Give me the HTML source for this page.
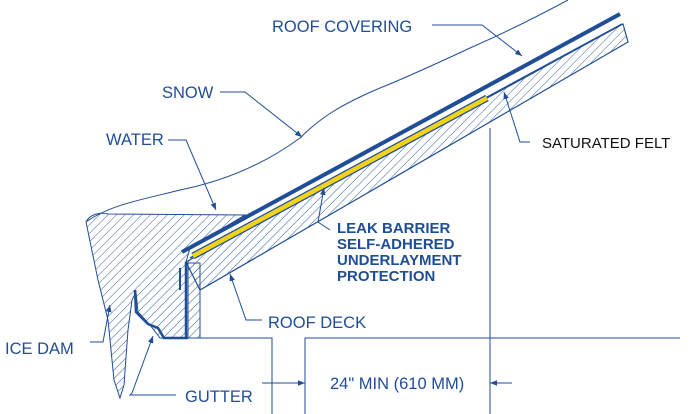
<!DOCTYPE html>
<html><head><meta charset="utf-8"><style>
html,body{margin:0;padding:0;background:#fff}
svg{display:block}
text{font-family:"Liberation Sans",sans-serif;fill:#1f4e96}
</style></head><body>
<svg width="691" height="414" viewBox="0 0 691 414" xmlns="http://www.w3.org/2000/svg">
<defs>
<pattern id="h" patternUnits="userSpaceOnUse" width="6" height="6" patternTransform="rotate(45)">
<line x1="0" y1="0" x2="0" y2="6" stroke="#1f4e96" stroke-width="0.9"/>
</pattern>
<marker id="a" viewBox="0 0 10 10" refX="10" refY="5" markerWidth="7" markerHeight="7" orient="auto-start-reverse" markerUnits="userSpaceOnUse">
<path d="M0,1 L10,5 L0,9 z" fill="#1f4e96"/>
</marker>
</defs>
<g stroke="#1f4e96" fill="none">
<path d="M86,222 C90,214 100,212 108,214 L245,215 L190,248 L186,262 L186,338 L160,338 L150,325 L138,312 L136,292 L132,300 L128,330 L124,385 L120,398 L114,380 L108,320 L98,280 Z" fill="url(#h)" stroke-width="1"/>
<path d="M86,222 C110,205 140,200 180,190 C230,180 270,160 300,138 C320,118 340,105 380,88 C410,76 440,62 470,48 C500,35 540,15 568,0" stroke-width="1"/>
<path d="M186,262 L623,24 L628,42 L200,290 Z" fill="url(#h)" stroke-width="1.2"/>
<rect x="188" y="263" width="12" height="75" fill="url(#h)" stroke-width="1"/>
<line x1="186" y1="262" x2="186" y2="338" stroke-width="2.5"/>
<line x1="180" y1="268" x2="180" y2="290" stroke-width="2"/>
<path d="M190,258 L622,24" stroke-width="1.5"/>
<path d="M193,256 L487,98" stroke="#1f4e96" stroke-width="7"/>
<path d="M193,256 L487,98" stroke="#f3d21a" stroke-width="4.5"/>
<path d="M182,252 L620,14" stroke-width="4"/>
<path d="M135,290 L136,312 L148,324 L158,328 L164,338 L188,338" stroke-width="2.5"/>
<path d="M190,338 L272,338 L272,414 M305,414 L305,338 L680,338" stroke-width="1"/>
<line x1="490" y1="128" x2="490" y2="414" stroke-width="1"/>
<line x1="262" y1="383" x2="305" y2="383" stroke-width="1" marker-end="url(#a)"/>
<line x1="512" y1="383" x2="490" y2="383" stroke-width="1" marker-end="url(#a)"/>
<path d="M432,25 L482,25 L522,56" stroke-width="1" marker-end="url(#a)"/>
<path d="M220,92 L245,92 L302,137" stroke-width="1" marker-end="url(#a)"/>
<path d="M168,140 L186,140 L216,210" stroke-width="1" marker-end="url(#a)"/>
<path d="M530,142 L520,142 L504,92" stroke-width="1" marker-end="url(#a)"/>
<path d="M262,320 L246,320 L230,274" stroke-width="1" marker-end="url(#a)"/>
<path d="M90,342 L103,342 L110,305" stroke-width="1" marker-end="url(#a)"/>
<path d="M176,395 L130,395 L132,393 L153,336" stroke-width="1" marker-end="url(#a)"/>
<path d="M330,230 L318,222 L324,188" stroke-width="1" marker-end="url(#a)"/>
</g>
<text x="272" y="32" font-size="16.5">ROOF COVERING</text>
<text x="162" y="98" font-size="16.5">SNOW</text>
<text x="106" y="145" font-size="16.5">WATER</text>
<text x="542" y="148" font-size="15" style="fill:#111">SATURATED FELT</text>
<g font-size="15" font-weight="bold">
<text x="337" y="233">LEAK BARRIER</text>
<text x="337" y="249">SELF-ADHERED</text>
<text x="337" y="265">UNDERLAYMENT</text>
<text x="337" y="281">PROTECTION</text>
</g>
<text x="268" y="328" font-size="16.5">ROOF DECK</text>
<text x="5" y="354" font-size="16.5">ICE DAM</text>
<text x="185" y="402" font-size="16.5">GUTTER</text>
<text x="330" y="389" font-size="16.5">24" MIN (610 MM)</text>
</svg>
</body></html>
